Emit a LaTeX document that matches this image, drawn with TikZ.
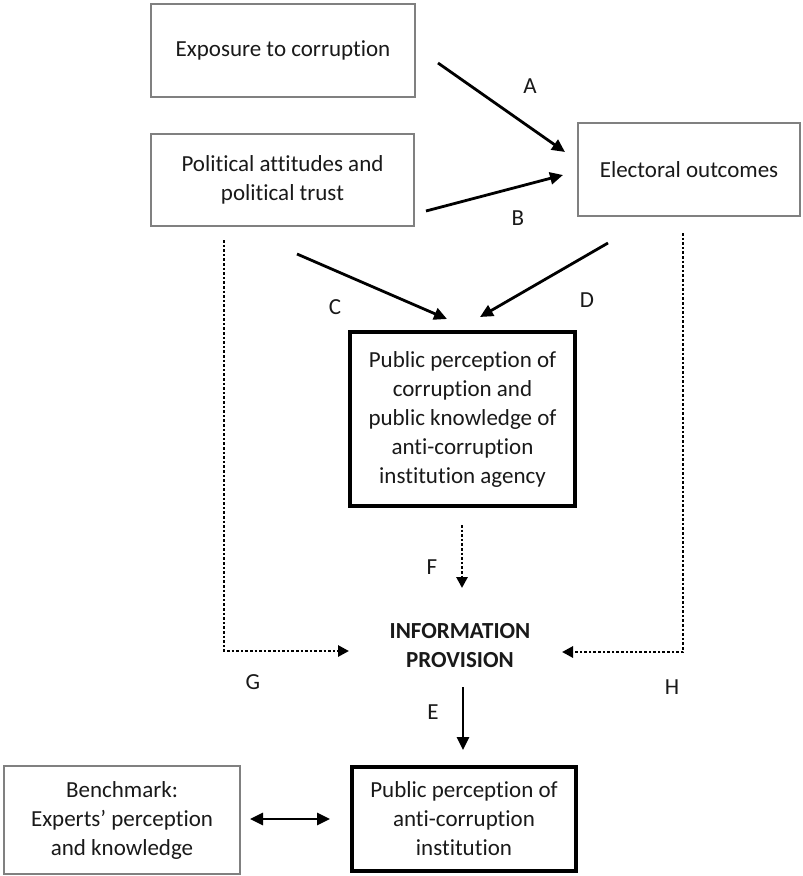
\documentclass[tikz,border=0pt]{standalone}
\usepackage{fontspec}
\setmainfont{Carlito}[Ligatures=NoCommon]
\usetikzlibrary{arrows.meta}
\begin{document}
\begin{tikzpicture}[x=1pt,y=-1pt,
  every node/.style={font=\fontsize{23}{29}\selectfont, text=black!90},
  thinbox/.style={draw=black!50, line width=2pt, align=center, inner sep=0pt},
  thickbox/.style={draw=black, line width=3.8pt, align=center, inner sep=0pt},
  conn/.style={line width=2.8pt, -{Triangle[length=13pt,width=12pt]}},
  dconn/.style={line width=2.8pt, {Triangle[length=13pt,width=12pt]}-{Triangle[length=13pt,width=12pt]}},
  dotconn/.style={line width=2.8pt, dash pattern=on 2.6pt off 2pt, -{Triangle[length=11pt,width=11pt]}},
  lbl/.style={inner sep=0pt}
]
\useasboundingbox (0,0) rectangle (803,876);

% boxes
\node[thinbox, minimum width=264pt, minimum height=93pt] (exp) at (283,50.5) {Exposure to corruption};
\node[thinbox, minimum width=263pt, minimum height=92pt] (pol) at (282.5,180) {Political attitudes and\\political trust};
\node[thinbox, minimum width=222pt, minimum height=93pt] (ele) at (689,169.5) {Electoral outcomes};
\node[thickbox, minimum width=225pt, minimum height=174pt] (pub) at (462.5,419) {Public perception of\\corruption and\\public knowledge of\\anti-corruption\\institution agency};
\node[inner sep=0pt, align=center, font=\fontsize{23}{29}\selectfont\bfseries] (info) at (460,646) {INFORMATION\\PROVISION};
\node[thickbox, minimum width=224pt, minimum height=104pt] (inst) at (464,819) {Public perception of\\anti-corruption\\institution};
\node[thinbox, minimum width=236pt, minimum height=108pt] (bench) at (122,820) {Benchmark:\\Experts’ perception\\and knowledge};

% connector end points
\coordinate (a1) at (438,63);   \coordinate (a2) at (565,152);
\coordinate (b1) at (426,211);  \coordinate (b2) at (563,175);
\coordinate (c1) at (297,254);  \coordinate (c2) at (447,319);
\coordinate (d1) at (608,243);  \coordinate (d2) at (480,317);
\coordinate (f1) at (462,525);  \coordinate (f2) at (462,588);
\coordinate (e1) at (463,687);  \coordinate (e2) at (463,750);
\coordinate (g1) at (224,240);  \coordinate (g2) at (349,651);
\coordinate (h1) at (683,233);  \coordinate (h2) at (562,652);
\coordinate (k1) at (250,819);  \coordinate (k2) at (330,819);

% connectors
\draw[conn] (a1) -- (a2);
\draw[conn] (b1) -- (b2);
\draw[conn] (c1) -- (c2);
\draw[conn] (d1) -- (d2);
\draw[dotconn] (f1) -- (f2);
\draw[conn] (e1) -- (e2);
\draw[dotconn] (g1) |- (g2);
\draw[dotconn] (h1) |- (h2);
\draw[dconn] (k1) -- (k2);

% labels
\node[lbl] (la) at (530,86) {A};
\node[lbl] (lb) at (518,218) {B};
\node[lbl] (lc) at (335,307) {C};
\node[lbl] (ld) at (587,300) {D};
\node[lbl] (le) at (433,712) {E};
\node[lbl] (lf) at (432,567) {F};
\node[lbl] (lg) at (253,682) {G};
\node[lbl] (lh) at (672,687) {H};
\end{tikzpicture}
\end{document}
